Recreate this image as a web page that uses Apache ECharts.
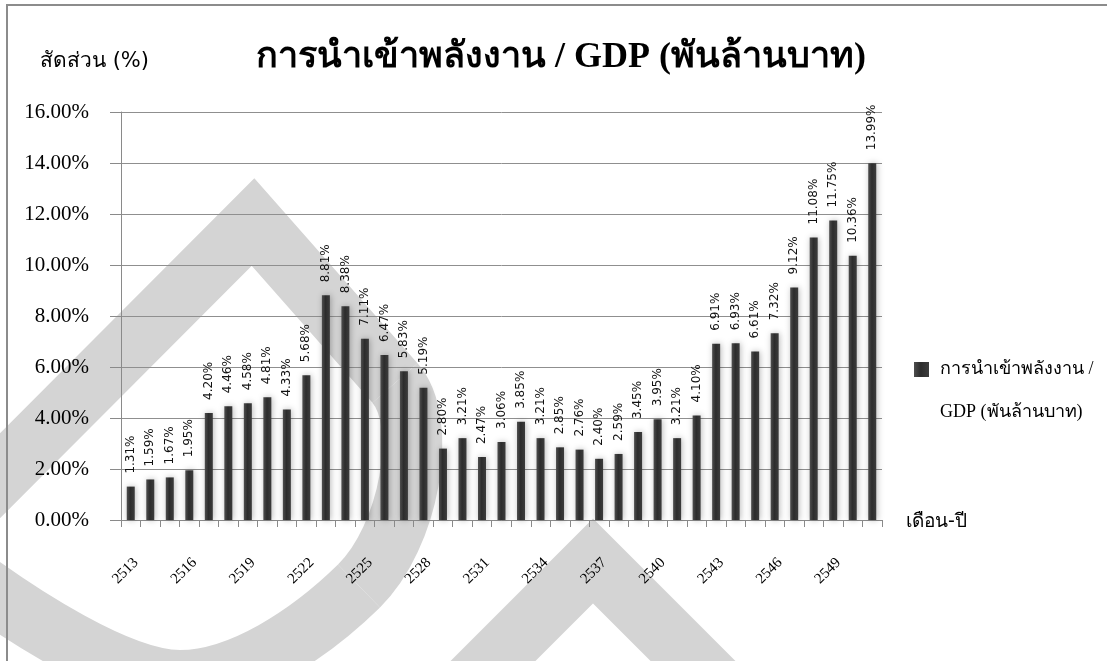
<!DOCTYPE html>
<html>
<head>
<meta charset="utf-8">
<script src="https://cdn.jsdelivr.net/npm/echarts@6/dist/echarts.min.js"></script>
<style>
html,body{margin:0;padding:0;background:#ffffff;}
#chart{width:1107px;height:661px;}
</style>
</head>
<body>
<div id="chart"></div>
<script>
// ---- data ----
const categories = ['2513','2514','2515','2516','2517','2518','2519','2520','2521','2522',
  '2523','2524','2525','2526','2527','2528','2529','2530','2531','2532',
  '2533','2534','2535','2536','2537','2538','2539','2540','2541','2542',
  '2543','2544','2545','2546','2547','2548','2549','2550','2551'];
const importRatio = [1.31,1.59,1.67,1.95,4.20,4.46,4.58,4.81,4.33,5.68,
  8.81,8.38,7.11,6.47,5.83,5.19,2.80,3.21,2.47,3.06,
  3.85,3.21,2.85,2.76,2.40,2.59,3.45,3.95,3.21,4.10,
  6.91,6.93,6.61,7.32,9.12,11.08,11.75,10.36,13.99];
const seriesName = 'การนำเข้าพลังงาน / GDP (พันล้านบาท)';
const legendLines = ['การนำเข้าพลังงาน /', 'GDP (พันล้านบาท)'];
const titleText = 'การนำเข้าพลังงาน / GDP (พันล้านบาท)';
const yAxisName = 'สัดส่วน (%)';
const xAxisName = 'เดือน-ปี';

const chart = echarts.init(document.getElementById('chart'), null, {renderer: 'canvas'});
const wm = '#d4d4d4';
const barGrad = new echarts.graphic.LinearGradient(0, 0, 1, 0, [
  {offset: 0, color: '#4e4e4e'},
  {offset: 0.45, color: '#2c2c2c'},
  {offset: 1, color: '#3c3c3c'}
]);

chart.setOption({
  backgroundColor: '#ffffff',
  animation: false,
  title: {
    text: titleText,
    left: 256,
    top: 40,
    padding: 0,
    textStyle: {fontFamily: 'Liberation Serif, serif', fontWeight: 'bold', fontSize: 36, color: '#000'}
  },
  legend: {
    left: 914, top: 305,
    padding: 0,
    orient: 'vertical',
    itemWidth: 15, itemHeight: 15,
    icon: 'rect',
    formatter: function () { return '\n' + legendLines.join('\n'); },
    textStyle: {fontFamily: 'Liberation Serif, serif', fontSize: 18, color: '#000', lineHeight: 43, padding: [0, 0, 0, 6]}
  },
  grid: {left: 121, top: 112, right: 225, bottom: 141, containLabel: false},
  xAxis: {
    type: 'category',
    data: categories,
    axisLine: {lineStyle: {color: '#8a8a8a', width: 1}},
    axisTick: {show: true, interval: 0, alignWithLabel: false, length: 7, lineStyle: {color: '#8a8a8a'}},
    axisLabel: {interval: 2, rotate: 45, margin: 35, verticalAlign: 'top',
      fontFamily: 'Liberation Serif, serif', fontSize: 15, color: '#000'}
  },
  yAxis: {
    type: 'value',
    min: 0, max: 16, interval: 2,
    axisLine: {show: true, lineStyle: {color: '#8a8a8a', width: 1}},
    axisTick: {show: true, length: 11, lineStyle: {color: '#8a8a8a'}},
    splitLine: {show: true, lineStyle: {color: '#8f8f8f', width: 1}},
    axisLabel: {margin: 32, fontFamily: 'Liberation Serif, serif', fontSize: 21, color: '#000',
      formatter: function (v) { return v.toFixed(2) + '%'; }}
  },
  series: [{
    name: seriesName,
    type: 'bar',
    data: importRatio,
    barWidth: 8,
    itemStyle: {color: barGrad, shadowColor: 'rgba(0,0,0,0.28)', shadowBlur: 6, shadowOffsetX: 1},
    label: {
      show: true, position: 'top', distance: 13, rotate: 90, align: 'left', verticalAlign: 'middle',
      fontFamily: 'DejaVu Sans, sans-serif', fontSize: 12, color: '#111',
      formatter: function (p) { return p.value.toFixed(2) + '%'; }
    }
  }],
  graphic: [
    // watermark: droplet outline
    {type: 'polyline', z: -20, silent: true,
      shape: {points: [[-60, 536], [253, 222], [395, 383]]},
      style: {fill: null, stroke: wm, lineWidth: 60, lineJoin: 'miter', lineCap: 'butt'}},
    {type: 'bezierCurve', z: -20, silent: true,
      shape: {x1: 395, y1: 383, cpx1: 430, cpy1: 423, cpx2: 409, cpy2: 537, x2: 359, y2: 586},
      style: {fill: null, stroke: wm, lineWidth: 60, lineCap: 'butt'}},
    {type: 'bezierCurve', z: -20, silent: true,
      shape: {x1: 359, y1: 586, cpx1: 309, cpy1: 635, cpx2: 240, cpy2: 680, x2: 180, y2: 680},
      style: {fill: null, stroke: wm, lineWidth: 60, lineCap: 'butt'}},
    {type: 'bezierCurve', z: -20, silent: true,
      shape: {x1: 180, y1: 680, cpx1: 120, cpy1: 680, cpx2: 20, cpy2: 615, x2: -40, y2: 570},
      style: {fill: null, stroke: wm, lineWidth: 60, lineCap: 'butt'}},
    // watermark: lower chevron
    {type: 'polyline', z: -20, silent: true,
      shape: {points: [[430, 724], [593, 561], [756, 724]]},
      style: {fill: null, stroke: wm, lineWidth: 60, lineJoin: 'miter', lineCap: 'butt'}},
    // frame
    {type: 'rect', z: 100, silent: true,
      shape: {x: 7, y: 5, width: 1110, height: 670},
      style: {fill: null, stroke: '#8c8c8c', lineWidth: 2}},
    // axis names
    {type: 'text', z: 100, silent: true, left: 40, top: 51,
      style: {text: yAxisName, fontFamily: 'DejaVu Sans, sans-serif', fontSize: 21, fill: '#000'}},
    {type: 'text', z: 100, silent: true, left: 906, top: 513,
      style: {text: xAxisName, fontFamily: 'DejaVu Sans, sans-serif', fontSize: 19, fill: '#000'}}
  ]
});
</script>
</body>
</html>
